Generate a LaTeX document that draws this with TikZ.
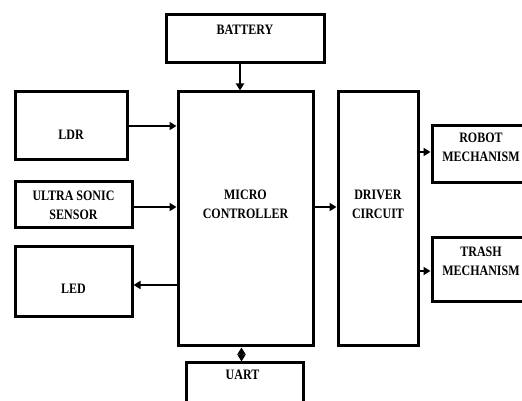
\documentclass[tikz,border=0pt]{standalone}
\usepackage{fontspec}
\setmainfont{Liberation Serif}
\usetikzlibrary{arrows.meta,positioning}

\begin{document}
\begin{tikzpicture}[
  x=1pt,y=1pt,
  box/.style={draw=black,line width=3pt,inner sep=0pt},
  lbl/.style={font=\fontsize{12}{16}\selectfont\bfseries,align=center,
    yscale=1.2,transform shape,inner sep=0pt},
  arr/.style={-{Triangle[length=7pt,width=8pt]},line width=2.8pt,draw=black},
  darr/.style={{Triangle[length=7pt,width=8pt]}-{Triangle[length=7pt,width=8pt]},
    line width=2.8pt,draw=black}
]
\useasboundingbox (0,0) rectangle (522,401);
% blocks
\node[box,minimum width=158,minimum height=48] (bat) at (245,362) {};
\node[box,minimum width=135,minimum height=254] (mc) at (245.5,182) {};
\node[box,minimum width=112,minimum height=68] (ldr) at (71,275) {};
\node[box,minimum width=117,minimum height=46] (us) at (73.5,196) {};
\node[box,minimum width=117,minimum height=70] (led) at (73.5,119) {};
\node[box,minimum width=117,minimum height=57] (uart) at (244.5,9.5) {};
\node[box,minimum width=80,minimum height=254] (drv) at (378,182) {};
\node[box,minimum width=98,minimum height=57] (robot) at (481,246.5) {};
\node[box,minimum width=98,minimum height=64] (trash) at (481,131) {};
% labels
\node[lbl] (batT) at ([yshift=9]bat.center) {BATTERY};
\node[lbl] (mcT) at ([yshift=15]mc.center) {MICRO\\CONTROLLER};
\node[lbl] (ldrT) at ([yshift=-9]ldr.center) {LDR};
\node[lbl] (usT) at (us.center) {ULTRA SONIC\\SENSOR};
\node[lbl] (ledT) at ([yshift=-7]led.center) {LED};
\node[lbl] (uartT) at ([xshift=-2,yshift=16.5]uart.center) {UART};
\node[lbl] (drvT) at ([yshift=14.5]drv.center) {DRIVER\\CIRCUIT};
\node[lbl] (robotT) at ([yshift=7]robot.center) {ROBOT\\MECHANISM};
\node[lbl] (trashT) at ([yshift=8.5]trash.center) {TRASH\\MECHANISM};
% connectors
\draw[arr] ([xshift=-5]bat.south) -- ([xshift=-5]bat.south |- mc.north);
\draw[arr] (ldr.east) -- (ldr.east -| mc.west);
\draw[arr] ([yshift=-2]us.east) -- ([yshift=-2]us.east -| mc.west);
\draw[arr] ([yshift=-3]led.east -| mc.west) -- ([yshift=-3]led.east);
\draw[darr] ([xshift=-4]mc.south) -- ([xshift=-4]mc.south |- uart.north);
\draw[arr] ([yshift=12]mc.east) -- ([yshift=12]mc.east -| drv.west);
\draw[arr] ([yshift=2.5]drv.east |- robot.west) -- ([yshift=2.5]robot.west);
\draw[arr] ([yshift=-1]drv.east |- trash.west) -- ([yshift=-1]trash.west);
\end{tikzpicture}
\end{document}
